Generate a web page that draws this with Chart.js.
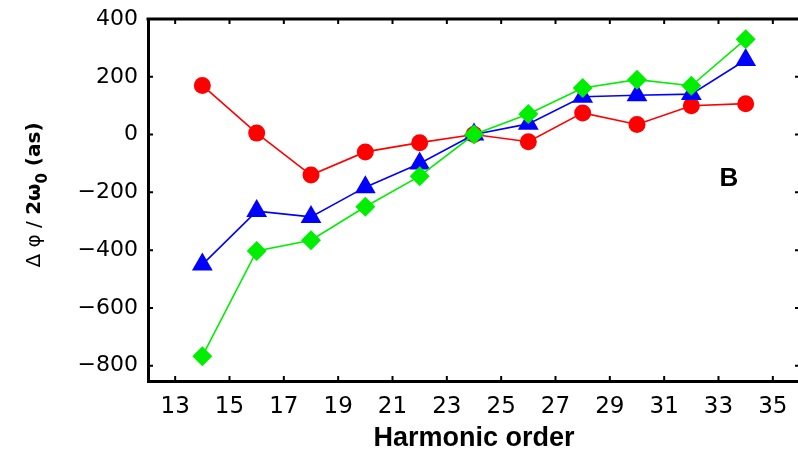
<!DOCTYPE html>
<html>
<head>
<meta charset="utf-8">
<script src="https://cdn.jsdelivr.net/npm/chart.js@4.4.0/dist/chart.umd.min.js"></script>
<style>
  html, body { margin: 0; padding: 0; background: #fff; overflow: hidden; }
  #phaseChart { display: block; }
</style>
</head>
<body>
<canvas id="phaseChart" width="812" height="456"></canvas>
<script>
// harmonic orders and phase differences (as)
const harmonics = [14, 16, 18, 20, 22, 24, 26, 28, 30, 32, 34];
const redValues = [170, 5, -140, -60, -28, 0, -25, 75, 35, 100, 107];
const blueValues = [-450, -265, -285, -182, -100, 0, 37, 131, 136, 140, 258];
const greenValues = [-767, -403, -366, -250, -144, 0, 71, 161, 190, 169, 330];
const xTicks = [13, 15, 17, 19, 21, 23, 25, 27, 29, 31, 33, 35];
const yTicks = [-800, -600, -400, -200, 0, 200, 400];

const FONT = "'Liberation Sans', Arial, sans-serif";
const WIDE = "'DejaVu Sans', sans-serif";

function toPoints(values) {
  return harmonics.map((h, i) => ({ x: h, y: values[i] }));
}

// frame on top/right, inward ticks, panel letter and y title with subscript
const framePlugin = {
  id: "frame",
  afterDraw(chart) {
    const { ctx, chartArea: a, scales } = chart;
    ctx.save();
    ctx.strokeStyle = "#000";
    ctx.lineWidth = 3;
    ctx.beginPath();
    ctx.moveTo(a.left - 1.5, a.top);
    ctx.lineTo(a.right, a.top);
    ctx.lineTo(a.right, a.bottom);
    ctx.stroke();

    ctx.lineWidth = 2;
    const len = 5;
    ctx.beginPath();
    xTicks.forEach(v => {
      const px = scales.x.getPixelForValue(v);
      ctx.moveTo(px, a.bottom);
      ctx.lineTo(px, a.bottom - len);
      ctx.moveTo(px, a.top);
      ctx.lineTo(px, a.top + len);
    });
    yTicks.forEach(v => {
      const py = scales.y.getPixelForValue(v);
      ctx.moveTo(a.left, py);
      ctx.lineTo(a.left + len, py);
      ctx.moveTo(a.right, py);
      ctx.lineTo(a.right - len, py);
    });
    ctx.stroke();

    // panel letter
    ctx.fillStyle = "#000";
    ctx.font = "bold 26px " + FONT;
    ctx.textAlign = "center";
    ctx.textBaseline = "middle";
    ctx.fillText("B", 729, 179);

    // y axis title
    ctx.translate(35, 195);
    ctx.rotate(-Math.PI / 2);
    ctx.textBaseline = "middle";
    ctx.textAlign = "left";
    const head = "\u0394 \u03c6 / ";
    const main = "2\u03c9";
    const sub = "0";
    const tail = " (as)";
    ctx.font = "20px " + WIDE;
    const wHead = ctx.measureText(head).width;
    ctx.font = "bold 20px " + WIDE;
    const wMain = ctx.measureText(main).width;
    const wTail = ctx.measureText(tail).width;
    ctx.font = "bold 15px " + WIDE;
    const wSub = ctx.measureText(sub).width;
    let x0 = -(wHead + wMain + wSub + wTail) / 2;
    ctx.font = "20px " + WIDE;
    ctx.fillText(head, x0, 0);
    x0 += wHead;
    ctx.font = "bold 20px " + WIDE;
    ctx.fillText(main, x0, 0);
    x0 += wMain;
    ctx.font = "bold 15px " + WIDE;
    ctx.fillText(sub, x0, 8);
    x0 += wSub;
    ctx.font = "bold 20px " + WIDE;
    ctx.fillText(tail, x0, 0);
    ctx.restore();
  }
};

const ctx = document.getElementById("phaseChart").getContext("2d");

new Chart(ctx, {
  type: "line",
  data: {
    datasets: [
      {
        label: "green",
        data: toPoints(greenValues),
        borderColor: "#00ee00",
        backgroundColor: "#00ee00",
        borderWidth: 1.6,
        pointStyle: "rectRot",
        pointRadius: 10,
        pointBorderWidth: 0,
        order: 1
      },
      {
        label: "blue",
        data: toPoints(blueValues),
        borderColor: "#0000ff",
        backgroundColor: "#0000ff",
        borderWidth: 1.6,
        pointStyle: "triangle",
        pointRadius: 12,
        pointBorderWidth: 0,
        order: 2
      },
      {
        label: "red",
        data: toPoints(redValues),
        borderColor: "#ff0000",
        backgroundColor: "#ff0000",
        borderWidth: 1.6,
        pointStyle: "circle",
        pointRadius: 8.5,
        pointBorderWidth: 0,
        order: 3
      }
    ]
  },
  options: {
    responsive: false,
    animation: false,
    layout: { padding: { top: 19, right: 2, left: 0, bottom: 0 } },
    plugins: {
      legend: { display: false },
      tooltip: { enabled: false }
    },
    elements: { line: { tension: 0 } },
    scales: {
      x: {
        type: "linear",
        min: 12,
        max: 36,
        afterBuildTicks: scale => { scale.ticks = xTicks.map(v => ({ value: v })); },
        afterFit: scale => {
          scale.height = 75;
          scale.paddingLeft = 0;
          scale.paddingRight = 0;
        },
        grid: { display: false, drawTicks: false },
        border: { display: true, color: "#000", width: 3 },
        ticks: {
          color: "#000",
          padding: 12,
          maxRotation: 0,
          autoSkip: false,
          font: { family: WIDE, size: 23 }
        },
        title: {
          display: true,
          text: "Harmonic order",
          color: "#000",
          padding: { top: 0, bottom: 1 },
          font: { family: FONT, size: 27, weight: "bold" }
        }
      },
      y: {
        type: "linear",
        min: -853,
        max: 400,
        afterBuildTicks: scale => { scale.ticks = yTicks.map(v => ({ value: v })); },
        afterFit: scale => {
          scale.width = 148;
          scale.paddingTop = 0;
          scale.paddingBottom = 0;
        },
        grid: { display: false, drawTicks: false },
        border: { display: true, color: "#000", width: 3 },
        ticks: {
          color: "#000",
          padding: 10,
          autoSkip: false,
          font: { family: WIDE, size: 22 },
          callback: v => String(v).replace("-", "\u2212")
        }
      }
    }
  },
  plugins: [framePlugin]
});
</script>
</body>
</html>
